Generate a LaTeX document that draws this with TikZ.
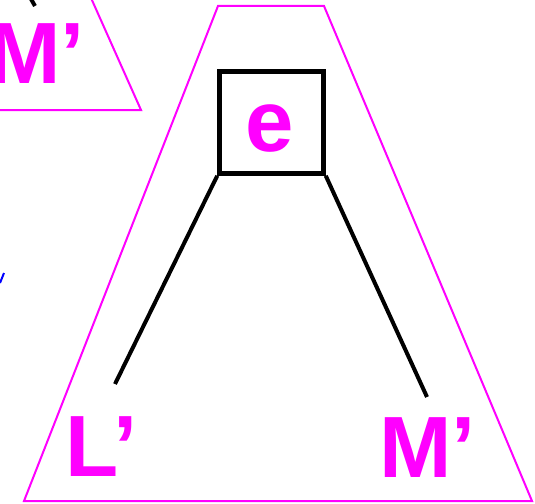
\documentclass[tikz,border=0pt]{standalone}
\usepackage{fontspec}
\setmainfont{Liberation Sans}
\usetikzlibrary{positioning}
\definecolor{magc}{HTML}{FF00FF}
\definecolor{bluec}{HTML}{0000FF}
\tikzset{
  frame/.style={draw=magc,line width=2pt,line join=miter},
  ebox/.style={draw=black,line width=4.5pt,minimum width=104pt,minimum height=102pt,inner sep=0pt},
  lbl/.style={text=magc,font=\fontsize{87}{87}\selectfont\bfseries,inner sep=0pt},
  edge/.style={draw=black,line width=4pt}
}
\begin{document}
\begin{tikzpicture}[x=1pt,y=-1pt]
\useasboundingbox (0,0) rectangle (535,503);
\clip (0,0) rectangle (535,503);
% subtree triangles
\draw[frame] (218,6) -- (324,6) -- (532,501) -- (24,501) -- cycle;
\draw[frame] (83,-20) -- (141,110) -- (-20,110);
% root and leaves
\node[ebox] (eb) at (271.5,122.5) {};
\node[lbl] (e) at (270,129) {e};
\node[lbl] (lp) at (101.5,446.5) {L’};
\node[lbl] (mp) at (427.5,447.5) {M’};
\node[lbl] (mtop) at (36.5,54) {M’};
\coordinate (lend) at (115,384);
\coordinate (mend) at (427,397);
\draw[edge] (eb.south west) -- (lend);
\draw[edge] (eb.south east) -- (mend);
% pieces cut off at the edges
\coordinate (ttop) at (27,-8);
\coordinate (tend) at (35,6);
\draw[edge] (ttop) -- (tend);
\coordinate (btop) at (4,273);
\coordinate (bend) at (0,283);
\draw[bluec,line width=2pt] (btop) -- (bend);
\end{tikzpicture}
\end{document}
